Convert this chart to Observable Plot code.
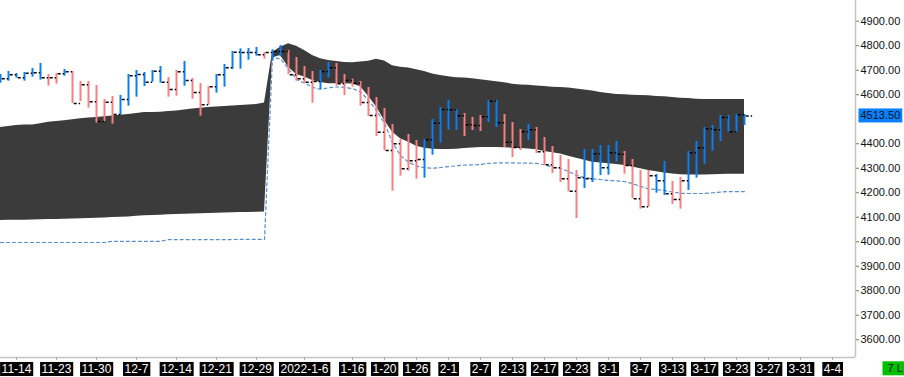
<!DOCTYPE html>
<html><head><meta charset="utf-8">
<script src="https://cdn.jsdelivr.net/npm/d3@7"></script>
<script src="https://cdn.jsdelivr.net/npm/@observablehq/plot@0.6"></script>
<style>
html,body{margin:0;padding:0;background:#fff;overflow:hidden}
#chart svg{display:block;font-family:"Liberation Sans",Arial,sans-serif}
</style></head><body><div id="chart"></div>
<script>
// ---- data (bar index 0..93) ----
const barDir = "uuuuuuddudddddduuuuuudduddduuuuuuduuddddu uddddddddddduuuuuddduudddudddddduuuuudddduudduuuuuuuu".replace(/ /g,"").split("");
const barHigh = [4682.6,4694.8,4686.7,4690.7,4707.1,4727.5,4682.6,4686.7,4703.0,4694.8,4654.0,4654.0,4637.7,4580.6,4592.8,4596.9,4682.6,4698.9,4690.7,4698.9,4715.2,4670.3,4698.9,4735.6,4666.3,4645.9,4633.6,4682.6,4723.4,4776.4,4787.3,4788.7,4792.7,4772.3,4783.2,4800.9,4780.5,4751.9,4715.2,4694.8,4698.9,4731.5,4727.5,4682.6,4663.5,4654.0,4629.5,4588.7,4543.9,4478.6,4417.4,4437.8,4413.3,4417.4,4499.0,4548.0,4576.5,4539.8,4523.5,4507.1,4515.3,4576.5,4576.5,4519.4,4486.7,4458.2,4478.6,4466.3,4425.5,4388.8,4352.1,4335.8,4290.9,4376.6,4376.6,4392.9,4392.9,4409.2,4368.4,4335.8,4290.9,4290.9,4274.6,4327.6,4246.0,4262.3,4368.4,4409.2,4466.3,4474.5,4515.3,4515.3,4519.4,4519.4];
const barLow = [4647.2,4655.4,4667.6,4655.4,4671.7,4659.5,4635.0,4643.1,4675.8,4564.3,4572.4,4545.2,4484.0,4490.8,4479.9,4515.3,4553.4,4590.1,4633.6,4651.3,4647.2,4590.1,4594.2,4635.0,4581.9,4512.6,4557.5,4606.4,4630.9,4703.0,4704.3,4741.1,4757.4,4745.1,4737.0,4754.7,4682.6,4655.4,4647.2,4565.6,4621.4,4667.6,4635.0,4596.9,4630.9,4553.4,4511.2,4429.6,4371.1,4206.6,4267.8,4288.2,4255.5,4259.6,4353.5,4402.4,4455.5,4454.1,4429.6,4454.1,4450.0,4486.7,4466.3,4384.7,4343.9,4372.5,4413.3,4360.3,4311.3,4278.7,4241.9,4203.9,4095.0,4217.5,4241.9,4270.5,4271.9,4324.9,4276.0,4175.3,4133.1,4141.3,4198.4,4188.9,4152.2,4133.1,4209.3,4259.6,4316.7,4369.8,4409.2,4447.3,4447.3,4474.5];
const barClose = [4664.9,4681.2,4669.0,4688.0,4689.4,4669.0,4669.0,4685.3,4693.5,4564.3,4640.4,4571.1,4490.8,4569.7,4519.4,4580.6,4677.1,4682.6,4651.3,4696.2,4651.3,4621.4,4693.5,4658.1,4609.1,4558.8,4632.3,4681.2,4709.8,4773.7,4772.3,4772.3,4762.8,4772.0,4776.4,4776.4,4681.2,4664.9,4651.3,4654.0,4694.8,4709.8,4644.5,4658.1,4647.2,4568.3,4515.3,4447.3,4372.5,4399.7,4297.7,4330.3,4335.8,4416.0,4484.0,4539.8,4538.4,4513.9,4477.2,4474.5,4509.9,4573.8,4485.4,4406.5,4384.7,4448.7,4456.8,4367.1,4314.0,4301.8,4256.9,4206.6,4261.0,4256.9,4358.9,4301.8,4363.0,4357.5,4311.3,4175.3,4142.7,4269.1,4248.7,4195.7,4172.6,4248.7,4363.0,4383.4,4460.9,4456.8,4507.1,4448.7,4518.0,4513.5];
const bandUpper = [4466,4470,4474,4476,4477,4482,4488,4491,4494,4498,4502,4505,4507,4510,4513,4516,4519,4523,4528,4528,4529,4532,4534,4538,4542,4545,4548,4550,4552,4554,4556,4558,4560,4566,4772,4794,4808,4798,4780,4760,4747,4740,4736,4732,4731,4734,4737,4745,4738,4718,4712,4709,4702,4695,4685,4678,4673,4669,4668,4665,4661,4657,4653,4649,4643,4640,4639,4636,4634,4631,4630,4627,4623,4619,4615,4609,4605,4601,4600,4598,4597,4596,4593,4592,4589,4586,4585,4582,4581,4581,4581,4581,4581,4581];
const bandLower = [4087,4088,4088,4088,4089,4090,4091,4091,4092,4093,4094,4095,4096,4097,4099,4100,4101,4104,4106,4107,4108,4110,4111,4112,4113,4114,4115,4116,4117,4118,4119,4119,4120,4121,4750,4760,4712,4683,4672,4658,4650,4645,4645,4645,4644,4633,4594,4550,4495,4447,4420,4406,4390,4382,4378,4377,4377,4378,4381,4383,4385,4385,4385,4384,4382,4381,4379,4375,4368,4363,4358,4349,4341,4333,4325,4321,4318,4315,4311,4305,4298,4291,4286,4281,4277,4273,4272,4272,4272,4273,4275,4276,4276,4276];
const envLine = [3997,3997,3997,3997,3997,3997,3997,3997,3997,3997,3997,3997,3997,3997,4002,4002,4002,4002,4002,4002,4002,4009,4009,4009,4009,4009,4009,4009,4009,4009,4010,4010,4010,4010,4752,4746,4706,4662,4648,4630,4622,4628,4632,4630,4625,4612,4577,4536,4483,4405,4352,4325,4309,4302,4300,4303,4307,4310,4313,4314,4315,4320,4322,4322,4322,4321,4321,4320,4314,4305,4300,4287,4271,4262,4257,4254,4250,4249,4246,4237,4226,4216,4213,4209,4203,4198,4197,4197,4197,4200,4203,4205,4205,4205];
const xTickIdx = [2,7,12,17,22,27,32,38,44,48,52,56,60,64,68,72,76,80,84,88,92,96,100,104];
const xTickLabels = ["11-14","11-23","11-30","12-7","12-14","12-21","12-29","2022-1-6","1-16","1-20","1-26","2-1","2-7","2-13","2-17","2-23","3-1","3-7","3-13","3-17","3-23","3-27","3-31","4-4"];
const yTicks = [4900,4800,4700,4600,4400,4300,4200,4100,4000,3900,3800,3700,3600];
const lastPrice = 4513.5;
const badgeText = "7 L";
const xDomain = [0, 106.875];
const yDomain = [3527.8, 4984.5];

// ---- tables ----
const bars = barHigh.map((h, i) => ({k: i, high: h, low: barLow[i], close: barClose[i], dir: barDir[i]}));
const band = bandUpper.map((u, i) => ({k: i, hi: u, lo: bandLower[i], env: envLine[i]}));

const chart = Plot.plot({
  width: 904, height: 377,
  marginTop: 0, marginBottom: 20, marginLeft: 0, marginRight: 49,
  x: {domain: xDomain, axis: null},
  y: {domain: yDomain, axis: null},
  style: {background: "white", fontFamily: "'Liberation Sans', Arial, sans-serif"},
  marks: [
    Plot.areaY(band, {x: "k", y1: "lo", y2: "hi", fill: "#3b3b3b", curve: "linear"}),
    Plot.lineY(band, {x: "k", y: "env", stroke: "#5a8cc8", strokeWidth: 1.2, strokeDasharray: "3,3"}),
    Plot.ruleX(bars, {x: "k", y1: "low", y2: "high", stroke: d => d.dir === "u" ? "#0b7cf2" : "#f77f7f", strokeWidth: 2}),
    Plot.link(bars, {x1: d => d.k + 0.15, x2: d => d.k + 0.95, y1: "close", y2: "close", stroke: "black", strokeWidth: 1.5, strokeDasharray: "3,2"}),
    Plot.ruleY([yDomain[0]], {stroke: "#c4c4c4", strokeWidth: 1.5}),
    Plot.ruleX([xDomain[1]], {stroke: "#c4c4c4", strokeWidth: 1.5}),
    Plot.axisY({anchor: "right", ticks: yTicks, tickFormat: d => d.toFixed(2), tickSize: 3, tickPadding: 2, fontSize: 11, stroke: "#777", fill: "#111"}),
    Plot.axisX({anchor: "bottom", ticks: xTickIdx, tickFormat: d => xTickLabels[xTickIdx.indexOf(d)], tickSize: 3, tickPadding: 4, fontSize: 12, stroke: "#aaa", fill: "white"}),
    Plot.text([lastPrice], {y: d => d, frameAnchor: "right", dx: 5, textAnchor: "start", text: d => d.toFixed(2), fontSize: 11, fill: "#111"}),
    Plot.text([badgeText], {frameAnchor: "bottom-right", dx: 32, dy: 7, lineAnchor: "top", textAnchor: "start", text: d => d, fontSize: 11, fill: "#111"})
  ]
});
document.getElementById("chart").append(chart);

function boxFor(t, fill, px, py, fixedW) {
  const b = t.getBBox();
  const r = document.createElementNS("http://www.w3.org/2000/svg", "rect");
  r.setAttribute("x", b.x - px);
  r.setAttribute("y", b.y - py);
  r.setAttribute("width", fixedW ? fixedW : b.width + 2 * px);
  r.setAttribute("height", b.height + 2 * py);
  r.setAttribute("fill", fill);
  r.setAttribute("stroke", "none");
  if (t.getAttribute("transform")) r.setAttribute("transform", t.getAttribute("transform"));
  t.parentNode.insertBefore(r, t);
}
const xLabelGroup = chart.querySelector('g[aria-label="x-axis tick label"]');
xLabelGroup.querySelectorAll("text").forEach(t => { boxFor(t, "black", 1.5, 0); t.setAttribute("fill", "white"); });
const priceStr = lastPrice.toFixed(2);
chart.querySelectorAll("text").forEach(t => {
  if (t.closest('g[aria-label^="y-axis"]') || t.closest('g[aria-label^="x-axis"]')) return;
  if (t.textContent === priceStr) boxFor(t, "#0a80ff", 2, 1);
  else if (t.textContent === badgeText) boxFor(t, "#00c000", 5, 1, 30);
});
</script></body></html>
